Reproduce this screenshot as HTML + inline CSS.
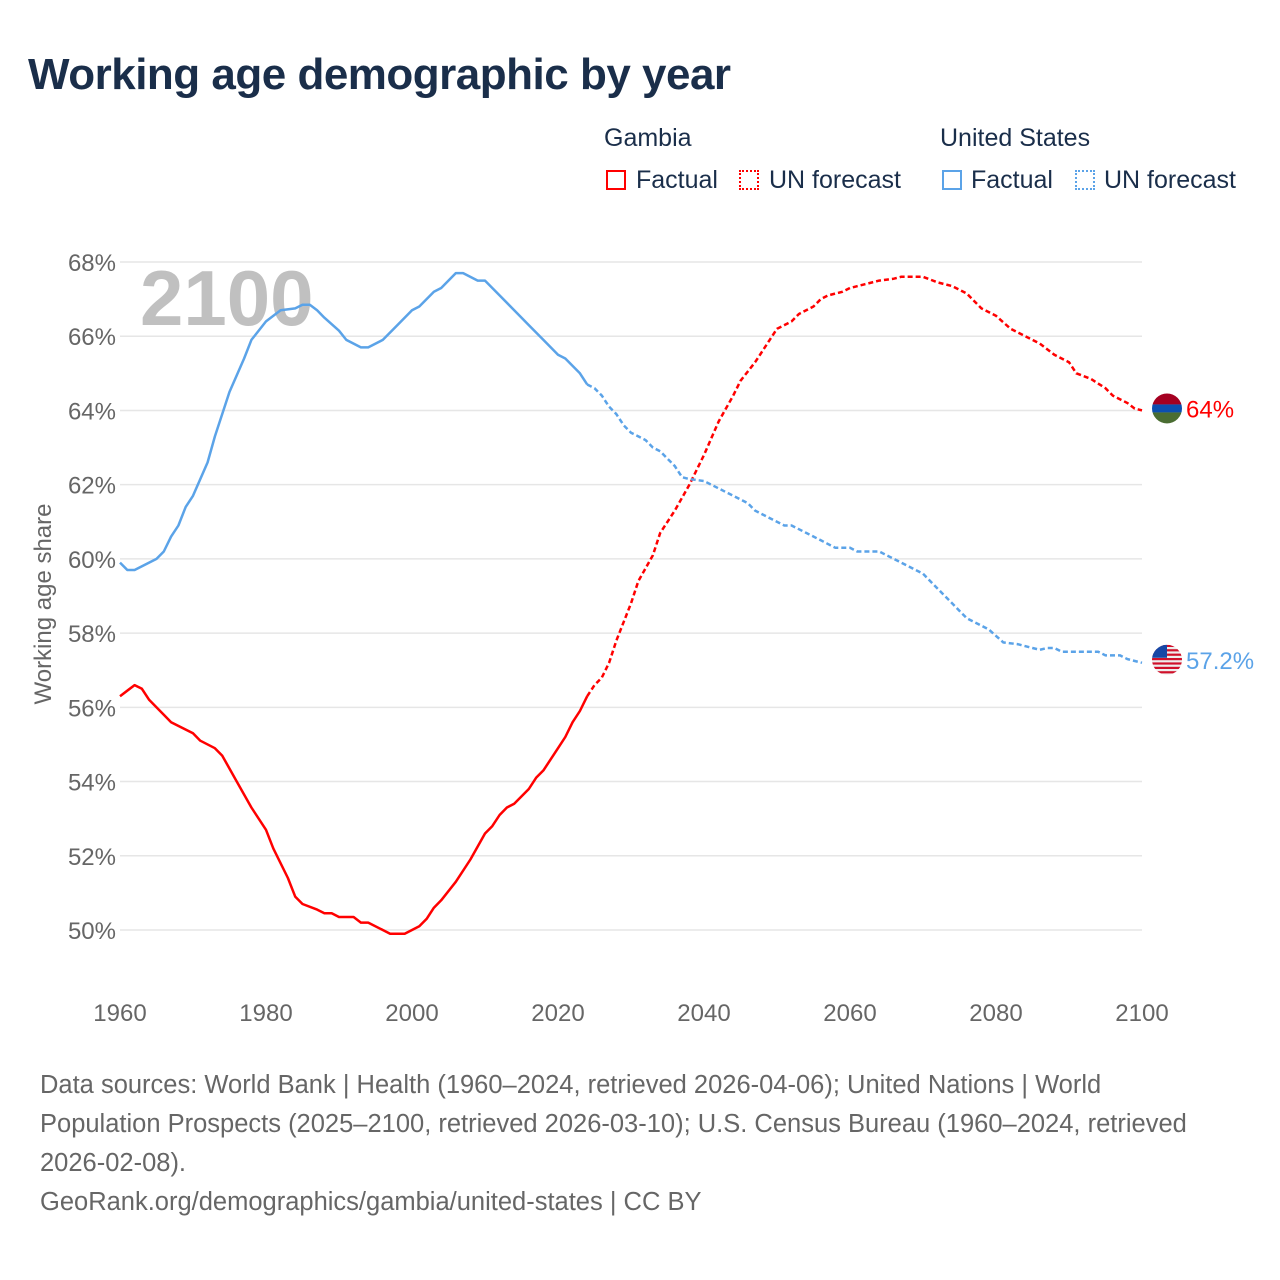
<!DOCTYPE html>
<html><head><meta charset="utf-8"><style>
body{margin:0;background:#fff;font-family:"Liberation Sans",sans-serif;}
#wrap{position:relative;width:1280px;height:1280px;overflow:hidden;}
h1{position:absolute;left:28px;top:50px;margin:0;font-size:44px;font-weight:bold;color:#1a2e4a;letter-spacing:-0.5px;}
.lg{position:absolute;font-size:25px;color:#1a2e4a;}
.sw{position:absolute;width:20px;height:20px;box-sizing:border-box;}
.foot{position:absolute;left:40px;top:1066px;font-size:25.5px;line-height:39px;color:#666;white-space:nowrap;}
</style></head><body>
<div id="wrap">
<h1>Working age demographic by year</h1>
<div class="lg" style="left:604px;top:124px">Gambia</div>
<div class="lg" style="left:940px;top:124px">United States</div>
<div class="sw" style="left:606px;top:170px;border:2px solid #f00"></div>
<div class="lg" style="left:636px;top:166px">Factual</div>
<div class="sw" style="left:739px;top:170px;border:2px dotted #f00"></div>
<div class="lg" style="left:769px;top:166px">UN forecast</div>
<div class="sw" style="left:942px;top:170px;border:2px solid #5ba3e8"></div>
<div class="lg" style="left:971px;top:166px">Factual</div>
<div class="sw" style="left:1075px;top:170px;border:2px dotted #5ba3e8"></div>
<div class="lg" style="left:1104px;top:166px">UN forecast</div>
<svg id="svg" width="1280" height="1280" style="position:absolute;left:0;top:0"></svg>
<div class="foot">Data sources: World Bank | Health (1960–2024, retrieved 2026-04-06); United Nations | World<br>Population Prospects (2025–2100, retrieved 2026-03-10); U.S. Census Bureau (1960–2024, retrieved<br>2026-02-08).<br>GeoRank.org/demographics/gambia/united-states | CC BY</div>
</div>
<script>
const yTicks=[50,52,54,56,58,60,62,64,66,68];
const xTicks=[1960,1980,2000,2020,2040,2060,2080,2100];
const gmYears=[1960,1962,1963,1964,1966,1967,1970,1971,1973,1974,1976,1978,1980,1981,1983,1984,1985,1987,1988,1989,1990,1992,1993,1994,1996,1997,1999,2001,2002,2003,2004,2006,2008,2010,2011,2012,2013,2014,2016,2017,2018,2020,2021,2022,2023,2024,2025,2026,2027,2028,2030,2031,2033,2034,2036,2038,2040,2042,2044,2045,2047,2048,2049,2050,2052,2053,2055,2056,2057,2059,2060,2062,2064,2066,2067,2070,2072,2074,2076,2078,2080,2082,2084,2086,2088,2090,2091,2093,2095,2096,2098,2099,2100];
const gmValues=[56.3,56.6,56.5,56.2,55.8,55.6,55.3,55.1,54.9,54.7,54.0,53.3,52.7,52.2,51.4,50.9,50.7,50.55,50.45,50.45,50.35,50.35,50.2,50.2,50.0,49.9,49.9,50.1,50.3,50.6,50.8,51.3,51.9,52.6,52.8,53.1,53.3,53.4,53.8,54.1,54.3,54.9,55.2,55.6,55.9,56.3,56.6,56.8,57.2,57.8,58.8,59.4,60.1,60.7,61.3,62.0,62.8,63.7,64.4,64.8,65.3,65.6,65.9,66.2,66.4,66.6,66.8,67.0,67.1,67.2,67.3,67.4,67.5,67.55,67.6,67.6,67.45,67.35,67.15,66.75,66.55,66.2,66.0,65.8,65.5,65.3,65.0,64.85,64.6,64.4,64.2,64.05,64.0];
const usYears=[1960,1961,1962,1965,1966,1967,1968,1969,1970,1972,1973,1975,1977,1978,1980,1982,1984,1985,1986,1987,1988,1990,1991,1993,1994,1996,1998,2000,2001,2003,2004,2006,2007,2009,2010,2012,2014,2016,2018,2020,2021,2023,2024,2025,2026,2027,2028,2029,2030,2032,2033,2034,2036,2037,2038,2040,2042,2044,2046,2047,2049,2051,2052,2054,2056,2058,2060,2061,2064,2066,2068,2070,2072,2074,2076,2078,2079,2081,2083,2085,2086,2087,2088,2089,2094,2095,2097,2098,2100];
const usValues=[59.9,59.7,59.7,60.0,60.2,60.6,60.9,61.4,61.7,62.6,63.3,64.5,65.4,65.9,66.4,66.7,66.75,66.85,66.85,66.7,66.5,66.15,65.9,65.7,65.7,65.9,66.3,66.7,66.8,67.2,67.3,67.7,67.7,67.5,67.5,67.1,66.7,66.3,65.9,65.5,65.4,65.0,64.7,64.6,64.4,64.1,63.9,63.6,63.4,63.2,63.0,62.9,62.5,62.2,62.15,62.1,61.9,61.7,61.5,61.3,61.1,60.9,60.9,60.7,60.5,60.3,60.3,60.2,60.2,60.0,59.8,59.6,59.2,58.8,58.4,58.2,58.1,57.75,57.7,57.6,57.55,57.6,57.6,57.5,57.5,57.4,57.4,57.3,57.2];
const factualEnd=2024;
const X=y=>120+(y-1960)*(1142-120)/140;
const Y=v=>930-(v-50)*(930-262)/18;
const svg=document.getElementById('svg');
const NS='http://www.w3.org/2000/svg';
function mk(t,a){const e=document.createElementNS(NS,t);for(const k in a)e.setAttribute(k,a[k]);svg.appendChild(e);return e;}
yTicks.forEach(v=>{
 const l=mk('line',{x1:120,x2:1142,y1:Y(v),y2:Y(v),stroke:'#e6e6e6','stroke-width':1.5});
 
 
 const t=mk('text',{x:116,y:Y(v)+9,'text-anchor':'end','font-size':24,fill:'#666'});
 t.textContent=v+'%';
 
 
});
xTicks.forEach(yr=>{
 const t=mk('text',{x:X(yr),y:1021,'text-anchor':'middle','font-size':24,fill:'#666'});
 t.textContent=yr;
 
 
});
const yt=mk('text',{transform:'translate(51,604) rotate(-90)','text-anchor':'middle','font-size':24,fill:'#666'});
yt.textContent='Working age share';


const big=mk('text',{x:140,y:325,'font-size':78,'font-weight':'bold',fill:'#c0c0c0'});
big.textContent='2100';


function series(yrs,vals,color,name){
 const f=[],p=[];
 yrs.forEach((yr,i)=>{const pt=X(yr).toFixed(1)+','+Y(vals[i]).toFixed(1);if(yr<=factualEnd)f.push(pt);if(yr>=factualEnd)p.push(pt);});
 const a=mk('polyline',{points:f.join(' '),fill:'none',stroke:color,'stroke-width':2.5,'stroke-linejoin':'round'});
 
 
 const b=mk('polyline',{points:p.join(' '),fill:'none',stroke:color,'stroke-width':2.5,'stroke-dasharray':'5,3'});
 
 
}
series(gmYears,gmValues,'#ff0000','gambia');
series(usYears,usValues,'#5ba3e8','us');
const gl=gmValues[gmValues.length-1],ul=usValues[usValues.length-1];
const cx=1167;
const gy=Y(gl)-2,uy=Y(ul)-3;
const dflt=mk('defs',{});
dflt.innerHTML='<clipPath id="cg"><circle cx="'+cx+'" cy="'+gy+'" r="15"/></clipPath><clipPath id="cu"><circle cx="'+cx+'" cy="'+uy+'" r="15"/></clipPath>';
const gf=mk('g',{'clip-path':'url(#cg)'});


gf.innerHTML='<rect x="'+(cx-15)+'" y="'+(gy-15)+'" width="30" height="11" fill="#a50021"/><rect x="'+(cx-15)+'" y="'+(gy-4)+'" width="30" height="8" fill="#0c4fb0"/><rect x="'+(cx-15)+'" y="'+(gy+4)+'" width="30" height="11" fill="#4a6d32"/>';
svg.appendChild(gf);
const uf=mk('g',{'clip-path':'url(#cu)'});


let s='<rect x="'+(cx-15)+'" y="'+(uy-15)+'" width="30" height="30" fill="#eee"/>';
for(let i=0;i<7;i++)s+='<rect x="'+(cx-15)+'" y="'+(uy-15+i*4.4)+'" width="30" height="2.2" fill="#d0102a"/>';
s+='<rect x="'+(cx-15)+'" y="'+(uy-15)+'" width="15" height="13" fill="#1747a6"/>';
uf.innerHTML=s;
svg.appendChild(uf);
const gt=mk('text',{x:1186,y:gy+9,'font-size':24,fill:'#ff0000'});
gt.textContent=gl+'%';


const ut=mk('text',{x:1186,y:uy+9,'font-size':24,fill:'#5ba3e8'});
ut.textContent=ul+'%';


</script>
</body></html>
